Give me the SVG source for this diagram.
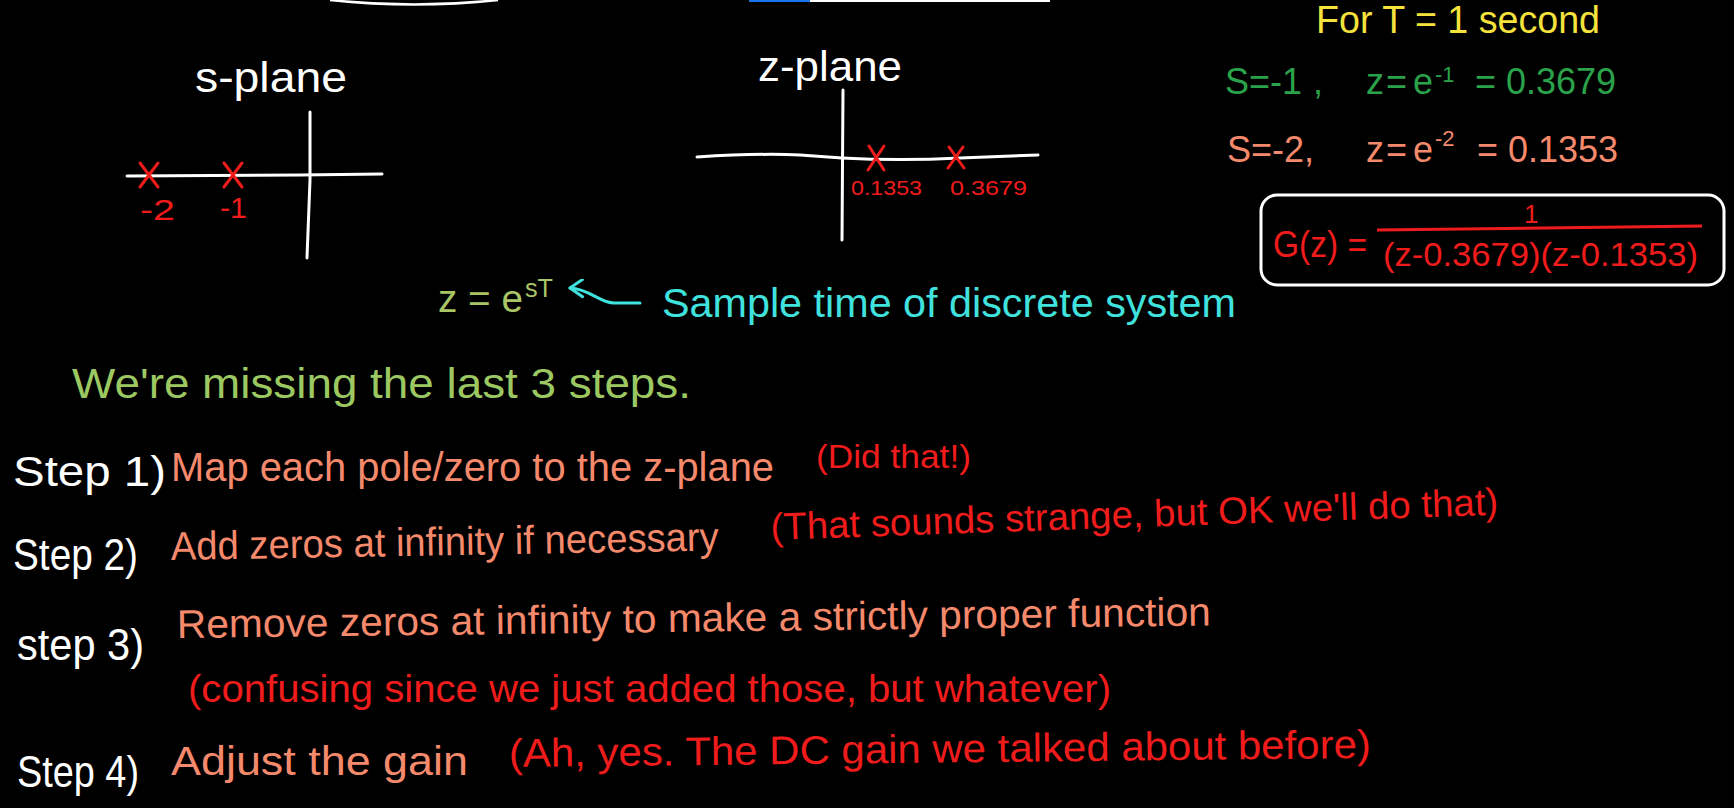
<svg xmlns="http://www.w3.org/2000/svg" width="1734" height="808" viewBox="0 0 1734 808">
<defs>
<style>
text{font-family:"Liberation Sans","DejaVu Sans",sans-serif;}
.w{fill:#ffffff}
.sal{fill:#f5896c}
.red{fill:#f01c1c}
.grn{fill:#2aa24a}
.yel{fill:#f5e23c}
.cyan{fill:#40e2de}
.lg{fill:#9cc862}
.olv{fill:#a9c566}
.axis{stroke:#ffffff;stroke-width:3;fill:none;stroke-linecap:round;stroke-linejoin:round}
.pole{stroke:#f01c1c;stroke-width:3;fill:none;stroke-linecap:round}
</style>
<marker id="chev" viewBox="0 0 20 20" refX="18" refY="10" markerWidth="20" markerHeight="20" markerUnits="userSpaceOnUse" orient="auto">
<path d="M5,2 L18,10 L6,19" fill="none" stroke="#40e2de" stroke-width="3" stroke-linecap="round" stroke-linejoin="round"/>
</marker>
</defs>
<rect width="1734" height="808" fill="#000000"/>

<g id="top-artifacts">
<path d="M330,0 Q414,9 498,0" fill="none" stroke="#ffffff" stroke-width="2.5"/>
<rect x="749" y="0" width="61" height="2" fill="#1a73e8"/>
<rect x="810" y="0" width="240" height="2" fill="#ffffff"/>
</g>

<g id="s-plane">
<text x="195" y="92" class="w" font-size="42" textLength="152" lengthAdjust="spacingAndGlyphs">s-plane</text>
<path class="axis" d="M127,176 L300,175 L382,174"/>
<path class="axis" d="M310,112 L310,180 L307,258"/>
<path class="pole" d="M140,163 L158,187 M158,163 L140,187"/>
<path class="pole" d="M224,163 L242,187 M242,163 L224,187"/>
<text x="140" y="220" class="red" font-size="30" textLength="35" lengthAdjust="spacingAndGlyphs">-2</text>
<text x="220" y="218" class="red" font-size="30" textLength="27" lengthAdjust="spacingAndGlyphs">-1</text>
</g>

<g id="z-plane">
<text x="758" y="81" class="w" font-size="42" textLength="144" lengthAdjust="spacingAndGlyphs">z-plane</text>
<path class="axis" d="M697,157 Q760,153 800,155 L842,158 Q900,161 960,158 L1038,155"/>
<path class="axis" d="M843,90 L842,240"/>
<path class="pole" d="M869,146 L884,170 M884,146 L868,170"/>
<path class="pole" d="M949,147 L964,168 M963,147 L948,168"/>
<text x="851" y="195" class="red" font-size="21" textLength="71" lengthAdjust="spacingAndGlyphs">0.1353</text>
<text x="950" y="195" class="red" font-size="21" textLength="77" lengthAdjust="spacingAndGlyphs">0.3679</text>
</g>

<g id="sample-time-note">
<text x="1316" y="33" class="yel" font-size="38" textLength="284" lengthAdjust="spacingAndGlyphs">For T = 1 second</text>
</g>

<g id="mapping-s1">
<text class="grn" font-size="36"><tspan x="1225" y="94">S=-1</tspan><tspan x="1313" y="94">,</tspan><tspan x="1366 1386 1413" y="94">z=e</tspan><tspan x="1435" y="82" font-size="22">-1</tspan><tspan x="1475" y="94">= 0.3679</tspan></text>
</g>

<g id="mapping-s2">
<text class="sal" font-size="36"><tspan x="1227" y="162">S=-2,</tspan><tspan x="1366 1386 1413" y="162">z=e</tspan><tspan x="1435" y="146" font-size="22">-2</tspan><tspan x="1477" y="162">= 0.1353</tspan></text>
</g>

<g id="transfer-function">
<rect x="1261" y="195" width="463" height="90" rx="16" fill="none" stroke="#ffffff" stroke-width="3"/>
<text x="1273" y="257" class="red" font-size="36" textLength="94" lengthAdjust="spacingAndGlyphs">G(z) =</text>
<text x="1524" y="223" class="red" font-size="26">1</text>
<path d="M1377,230 L1702,226" stroke="#f01c1c" stroke-width="3" fill="none"/>
<text x="1383" y="266" class="red" font-size="34" textLength="315" lengthAdjust="spacingAndGlyphs">(z-0.3679)(z-0.1353)</text>
</g>

<g id="z-definition">
<text class="olv" font-size="38"><tspan x="438" y="312" textLength="85" lengthAdjust="spacingAndGlyphs">z = e</tspan><tspan x="525" y="297" font-size="25" textLength="28" lengthAdjust="spacingAndGlyphs">sT</tspan></text>
</g>

<g id="sample-time-label">
<text x="662" y="317" class="cyan" font-size="40" textLength="574" lengthAdjust="spacingAndGlyphs">Sample time of discrete system</text>
</g>

<g id="connectors">
<path d="M640,303 L614,303 C600,303 590,289 570,288" fill="none" stroke="#40e2de" stroke-width="3" stroke-linecap="round" marker-end="url(#chev)"/>
</g>

<g id="intro">
<text x="72" y="398" class="lg" font-size="42" textLength="619" lengthAdjust="spacingAndGlyphs">We're missing the last 3 steps.</text>
</g>

<g id="step1">
<text x="13" y="486" class="w" font-size="42" textLength="153" lengthAdjust="spacingAndGlyphs">Step 1)</text>
<text x="171" y="481" class="sal" font-size="40" textLength="603" lengthAdjust="spacingAndGlyphs">Map each pole/zero to the z-plane</text>
<text x="816" y="468" class="red" font-size="34" textLength="155" lengthAdjust="spacingAndGlyphs">(Did that!)</text>
</g>

<g id="step2">
<text x="13" y="570" class="w" font-size="44" textLength="125" lengthAdjust="spacingAndGlyphs">Step 2)</text>
<text x="171" y="560" class="sal" font-size="40" textLength="548" lengthAdjust="spacingAndGlyphs" transform="rotate(-1 171 560)">Add zeros at infinity if necessary</text>
<text x="771" y="540" class="red" font-size="38" textLength="728" lengthAdjust="spacingAndGlyphs" transform="rotate(-2 771 540)">(That sounds strange, but OK we'll do that)</text>
</g>

<g id="step3">
<text x="17" y="660" class="w" font-size="44" textLength="127" lengthAdjust="spacingAndGlyphs">step 3)</text>
<text x="177" y="638" class="sal" font-size="40" textLength="1034" lengthAdjust="spacingAndGlyphs" transform="rotate(-0.7 177 638)">Remove zeros at infinity to make a strictly proper function</text>
<text x="188" y="702" class="red" font-size="38" textLength="923" lengthAdjust="spacingAndGlyphs">(confusing since we just added those, but whatever)</text>
</g>

<g id="step4">
<text x="17" y="787" class="w" font-size="44" textLength="122" lengthAdjust="spacingAndGlyphs">Step 4)</text>
<text x="171" y="775" class="sal" font-size="40" textLength="297" lengthAdjust="spacingAndGlyphs">Adjust the gain</text>
<text x="509" y="767" class="red" font-size="40" textLength="862" lengthAdjust="spacingAndGlyphs" transform="rotate(-0.6 509 767)">(Ah, yes. The DC gain we talked about before)</text>
</g>
</svg>
